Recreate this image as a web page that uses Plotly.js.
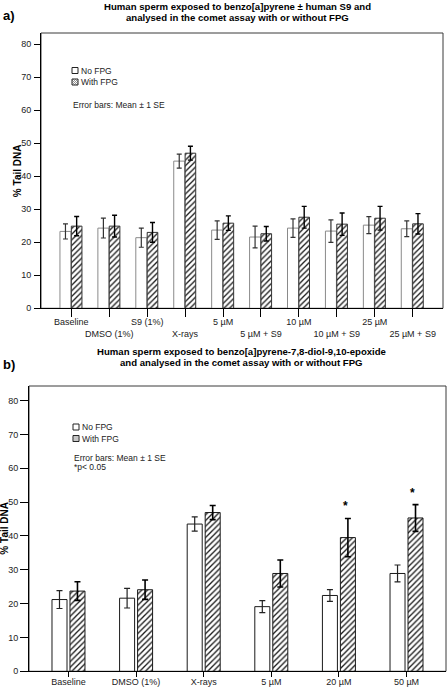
<!DOCTYPE html>
<html>
<head>
<meta charset="utf-8">
<script src="https://cdn.plot.ly/plotly-3.0.1.min.js"></script>
<style>html,body{margin:0;padding:0;background:#fff;}#chart{width:447px;height:688px;}</style>
</head>
<body>
<div id="chart"></div>
<script>
// ---- Data ----
const catsA = ['Baseline','DMSO (1%)','S9 (1%)','X-rays','5 µM','5 µM + S9','10 µM','10 µM + S9','25 µM','25 µM + S9'];
const noFpgA = [23.3, 24.3, 21.4, 44.6, 23.7, 21.6, 24.3, 23.4, 25.2, 24.1];
const noFpgSeA = [2.3, 3.0, 2.9, 2.1, 2.8, 3.3, 2.8, 3.4, 2.6, 2.4];
const withFpgA = [24.9, 24.9, 23.0, 47.0, 25.8, 22.6, 27.6, 25.5, 27.3, 25.6];
const withFpgSeA = [2.9, 3.3, 3.0, 2.1, 2.2, 2.2, 3.3, 3.4, 3.6, 3.1];

const catsB = ['Baseline','DMSO (1%)','X-rays','5 µM','20 µM','50 µM'];
const noFpgB = [21.2, 21.6, 43.5, 19.1, 22.4, 28.9];
const noFpgSeB = [2.65, 2.9, 2.1, 1.75, 1.75, 2.5];
const withFpgB = [23.7, 24.1, 46.9, 28.9, 39.5, 45.3];
const withFpgSeB = [2.75, 2.85, 2.1, 4.0, 5.65, 3.95];
const sigB = [false, false, false, false, true, true];

const seriesNames = ['No FPG', 'With FPG'];
const titleA = ['Human sperm exposed to benzo[a]pyrene ± human S9 and', 'analysed in the comet assay with or without FPG'];
const titleB = ['Human sperm exposed to benzo[a]pyrene-7,8-diol-9,10-epoxide', 'and analysed in the comet assay with or without FPG'];
const yTitle = '% Tail DNA';
const noteA = ['Error bars: Mean ± 1 SE'];
const noteB = ['Error bars: Mean ± 1 SE', '*p< 0.05'];

// ---- Layout helpers ----
const W = 447, H = 688;
const px = x => x / W;
const py = y => 1 - y / H;
const FONT = 'Liberation Sans, Arial, Helvetica, sans-serif';
const pattern = {shape: '/', fgcolor: '#1a1a1a', bgcolor: '#ffffff', size: 4, solidity: 0.33};

const traces = [
  {type: 'bar', name: seriesNames[0], x: catsA, y: noFpgA, xaxis: 'x', yaxis: 'y',
   width: 0.29, offset: -0.3,
   marker: {color: '#ffffff', line: {color: '#8a8a8a', width: 1}},
   error_y: {type: 'data', array: noFpgSeA, visible: true, color: '#333', thickness: 1.2, width: 2.5},
   showlegend: false, hoverinfo: 'skip'},
  {type: 'bar', name: seriesNames[1], x: catsA, y: withFpgA, xaxis: 'x', yaxis: 'y',
   width: 0.28, offset: 0.0,
   marker: {color: '#ffffff', line: {color: '#333', width: 1}, pattern: pattern},
   error_y: {type: 'data', array: withFpgSeA, visible: true, color: '#000', thickness: 1.4, width: 2.5},
   showlegend: false, hoverinfo: 'skip'},
  {type: 'bar', name: seriesNames[0], x: catsB, y: noFpgB, xaxis: 'x2', yaxis: 'y2',
   width: 0.222, offset: -0.244,
   marker: {color: '#ffffff', line: {color: '#1a1a1a', width: 1}},
   error_y: {type: 'data', array: noFpgSeB, visible: true, color: '#222', thickness: 1.2, width: 3},
   showlegend: false, hoverinfo: 'skip'},
  {type: 'bar', name: seriesNames[1], x: catsB, y: withFpgB, xaxis: 'x2', yaxis: 'y2',
   width: 0.222, offset: 0.022,
   marker: {color: '#ffffff', line: {color: '#1a1a1a', width: 1}, pattern: pattern},
   error_y: {type: 'data', array: withFpgSeB, visible: true, color: '#000', thickness: 1.6, width: 3},
   showlegend: false, hoverinfo: 'skip'}
];

const shapes = [];
const annotations = [];

// frames
shapes.push({type: 'rect', xref: 'x domain', yref: 'y domain', x0: 0, x1: 1, y0: 0, y1: 1, line: {color: '#3a3a3a', width: 1}, layer: 'below'});
shapes.push({type: 'rect', xref: 'x2 domain', yref: 'y2 domain', x0: 0, x1: 1, y0: 0, y1: 1, line: {color: '#3a3a3a', width: 1}, layer: 'below'});

const domA = [41, 443], botA = 308.3, topA = 33;
const domB = [29, 446], botB = 671.3, topB = 386;

// legends (manual swatches)
function legend(x0, yNo, yWith, notes, yNote) {
  const s = 6;
  shapes.push({type: 'rect', xref: 'paper', yref: 'paper', x0: px(x0), x1: px(x0 + s), y0: py(yNo + s / 2), y1: py(yNo - s / 2), line: {color: '#222', width: 1}, fillcolor: '#fff'});
  const t = yWith - s / 2;
  shapes.push({type: 'rect', xref: 'paper', yref: 'paper', x0: px(x0), x1: px(x0 + s), y0: py(t + s), y1: py(t), line: {color: '#222', width: 1}, fillcolor: '#fff'});
  let p = '';
  for (let k = 2; k <= 10; k += 2) {
    let ax = x0, ay = t + k, bx = x0 + k, by = t;
    if (k > s) { ax = x0 + (k - s); ay = t + s; bx = x0 + s; by = t + (k - s); }
    p += `M${px(ax)},${py(ay)} L${px(bx)},${py(by)} `;
  }
  shapes.push({type: 'path', xref: 'paper', yref: 'paper', path: p, line: {color: '#444', width: 0.6}});
  annotations.push({xref: 'paper', yref: 'paper', x: px(x0 + s + 0.5), y: py(yNo), xanchor: 'left', yanchor: 'middle', text: seriesNames[0], showarrow: false, font: {size: 8.5, color: '#222', family: FONT}});
  annotations.push({xref: 'paper', yref: 'paper', x: px(x0 + s + 0.5), y: py(yWith), xanchor: 'left', yanchor: 'middle', text: seriesNames[1], showarrow: false, font: {size: 8.5, color: '#222', family: FONT}});
  notes.forEach((n, j) => {
    annotations.push({xref: 'paper', yref: 'paper', x: px(x0 - 1), y: py(yNote + j * 9), xanchor: 'left', yanchor: 'middle', text: n, showarrow: false, font: {size: 8.5, color: '#222', family: FONT}});
  });
}
legend(72, 70.5, 82, noteA, 105);
legend(73, 427, 438.5, noteB, 457.5);

// titles
function title(lines, cx, ys, label, ly) {
  lines.forEach((l, j) => {
    annotations.push({xref: 'paper', yref: 'paper', x: px(cx), y: py(ys[j]), xanchor: 'center', yanchor: 'middle', text: '<b>' + l + '</b>', showarrow: false, font: {size: 9.6, color: '#000', family: FONT}});
  });
  annotations.push({xref: 'paper', yref: 'paper', x: px(1), y: py(ly), xanchor: 'left', yanchor: 'middle', text: '<b>' + label + '</b>', showarrow: false, font: {size: 13, color: '#000', family: FONT}});
}
title(titleA, 237, [6.5, 17], 'a)', 15.5);
title(titleB, 241, [351.5, 362.5], 'b)', 364);

// y-axis titles
annotations.push({xref: 'paper', yref: 'paper', x: px(17.5), y: py((botA + topA) / 2), xanchor: 'center', yanchor: 'middle', textangle: -90, text: '<b>' + yTitle + '</b>', showarrow: false, font: {size: 10, color: '#000', family: FONT}});
annotations.push({xref: 'paper', yref: 'paper', x: px(5), y: py((botB + topB) / 2), xanchor: 'center', yanchor: 'middle', textangle: -90, text: '<b>' + yTitle + '</b>', showarrow: false, font: {size: 10, color: '#000', family: FONT}});

// significance stars
catsB.forEach((c, i) => {
  if (sigB[i]) {
    annotations.push({xref: 'x2', yref: 'y2', x: c, y: withFpgB[i] + withFpgSeB[i], xshift: 6.3, yanchor: 'bottom', yshift: 3, text: '<b>*</b>', showarrow: false, font: {size: 12, color: '#000', family: FONT}});
  }
});

const axisCommon = {
  showgrid: false, zeroline: false, showline: true, linecolor: '#000', linewidth: 1,
  tickfont: {size: 9, color: '#222', family: FONT}
};

const layout = {
  width: W, height: H,
  margin: {l: 0, r: 0, t: 0, b: 0},
  paper_bgcolor: '#fff', plot_bgcolor: '#fff',
  font: {family: FONT, color: '#000'},
  showlegend: false,
  barmode: 'overlay',
  xaxis: Object.assign({}, axisCommon, {
    domain: [px(domA[0]), px(domA[1])], anchor: 'y', type: 'category',
    range: [-0.8, 9.8], ticks: 'outside', ticklen: 8, tickcolor: '#000', tickangle: 0,
    tickvals: catsA, ticktext: catsA.map((c, i) => i % 2 ? '<br>' + c : c), ticklabelstandoff: -3
  }),
  // overlay axis: only draws the longer ticks for the staggered (second-row) labels
  xaxis3: {
    overlaying: 'x', anchor: 'y', side: 'bottom', type: 'linear', range: [-0.8, 9.8],
    tickvals: catsA.map((c, i) => i).filter(i => i % 2), ticks: 'outside', ticklen: 14, tickcolor: '#000',
    showticklabels: false, showline: false, showgrid: false, zeroline: false
  },
  yaxis: Object.assign({}, axisCommon, {
    domain: [py(botA), py(topA)], anchor: 'x', range: [0, (botA - topA) / 3.3], dtick: 10,
    ticks: 'outside', ticklen: 6, tickcolor: '#000', ticklabelstandoff: 1
  }),
  xaxis2: Object.assign({}, axisCommon, {
    domain: [px(domB[0]), px(domB[1])], anchor: 'y2', type: 'category',
    range: [-0.584, 5.584], ticks: 'outside', ticklen: 5, tickcolor: '#000', tickangle: 0,
    tickvals: catsB, ticktext: catsB, ticklabelstandoff: -3
  }),
  yaxis2: Object.assign({}, axisCommon, {
    domain: [py(botB), py(topB)], anchor: 'x2', range: [0, (botB - topB) / 3.385], dtick: 10,
    ticks: 'outside', ticklen: 8, tickcolor: '#000'
  }),
  shapes: shapes,
  annotations: annotations
};

Plotly.newPlot('chart', traces, layout, {staticPlot: true, displayModeBar: false});
</script>
</body>
</html>
